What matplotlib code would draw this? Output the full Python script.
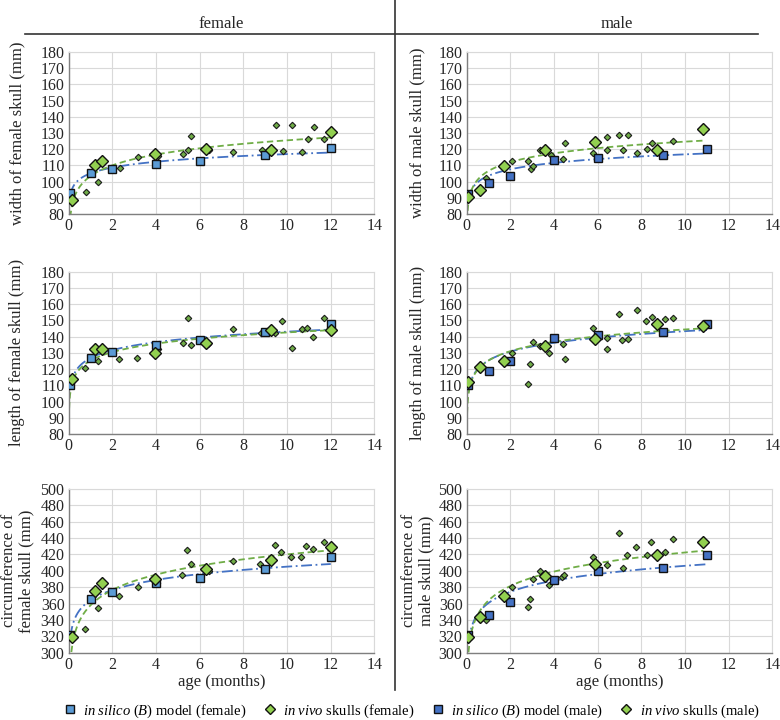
import numpy as np
import matplotlib
matplotlib.use("Agg")
import matplotlib.pyplot as plt
from matplotlib.lines import Line2D

plt.rcParams['font.family'] = ['Liberation Serif', 'DejaVu Serif']
plt.rcParams['mathtext.fontset'] = 'custom'
plt.rcParams['mathtext.rm'] = 'Liberation Serif'
plt.rcParams['mathtext.it'] = 'Liberation Serif:italic'

# ---- data (ages in months, sizes in mm) ----
model_age_f = [0.08, 1, 2, 4, 6, 9, 12]
model_age_m = [0.08, 1, 2, 4, 6, 9, 11]
mean_age_f = [0.14, 1.22, 1.54, 3.97, 6.29, 9.28, 12.03]
mean_age_m = [0.05, 0.61, 1.71, 3.58, 5.88, 8.71, 10.84]

# female width
fw_model = [93, 105, 107.5, 111, 113, 116.5, 120.8]
fw_mean = [88.6, 110, 112.9, 117.1, 120, 119.6, 130.4]
fw_ind_age = [0.79, 1.36, 2.33, 3.17, 4.1, 5.23, 5.44, 5.62, 6.42, 7.53, 8.83, 9.48, 9.79, 10.21, 10.67, 10.94, 11.22, 11.71]
fw_ind = [93.5, 99.8, 108.6, 115.1, 116.1, 116.9, 119.8, 128.2, 119.5, 118, 119.4, 134.7, 119, 134.7, 118.4, 126.3, 133.7, 126.3]

# male width
mw_model = [92.1, 99.3, 103.7, 113.1, 114.8, 116.2, 120.1]
mw_mean = [90.7, 94.8, 109.8, 119.7, 124.7, 119.5, 132.3]
mw_ind_age = [0.9, 2.09, 2.82, 2.95, 3.05, 3.36, 3.85, 4.43, 4.5, 5.8, 6.44, 6.41, 6.96, 7.14, 7.37, 7.79, 8.24, 8.47, 9.47]
mw_ind = [102, 112.7, 112.5, 107.6, 109.6, 119.5, 116.2, 114, 123.6, 117.4, 119.5, 127.5, 129, 119.7, 128.6, 117.7, 120.1, 123.8, 125.3]

# female length
fl_model = [110, 127, 130.3, 135, 137.7, 142.6, 147.7]
fl_mean = [113.7, 132.2, 132.6, 130.2, 136.3, 144.1, 144]
fl_ind_age = [0.76, 1.33, 2.3, 3.14, 4.1, 5.21, 5.44, 5.62, 6.4, 7.53, 8.81, 9.44, 9.76, 10.21, 10.66, 10.91, 11.2, 11.68]
fl_ind = [120.5, 125.2, 126, 126.6, 132.2, 136.3, 151.5, 134.9, 135.5, 144.9, 142, 142, 149.8, 132.8, 144.5, 145.5, 139.8, 151.5]

# male length
ml_model = [110, 119, 125, 138.9, 141, 142.6, 147.6]
ml_mean = [112.2, 121.5, 125, 134.4, 138.7, 147.6, 146.3]
ml_ind_age = [2.09, 2.81, 2.92, 3.05, 3.36, 3.79, 4.43, 4.5, 5.79, 6.44, 6.41, 6.96, 7.13, 7.37, 7.79, 8.23, 8.47, 9.08, 9.45]
ml_ind = [129.7, 110.8, 123.1, 136.5, 134.4, 130.1, 135.6, 126.2, 145.3, 138.9, 132.6, 153.9, 137.7, 138.3, 156.2, 149.8, 151.9, 150.8, 151.7]

# female circumference
fc_model = [321.5, 365, 374.2, 384.8, 391.3, 402.6, 417.3]
fc_mean = [319.5, 375.7, 384.8, 389.7, 402.6, 413.3, 429.5]
fc_ind_age = [0.75, 1.35, 2.3, 3.15, 4.06, 5.2, 5.43, 5.62, 6.41, 7.5, 8.78, 9.45, 9.74, 10.18, 10.65, 10.88, 11.2, 11.67]
fc_ind = [328.6, 355, 369.6, 380.6, 385.5, 395.3, 425.5, 408.4, 399.4, 412.4, 408, 431.2, 423, 416.6, 416.6, 430.4, 426.3, 435.6]

# male circumference
mc_model = [321.6, 346.4, 361.9, 388.5, 400.2, 403.9, 419.7]
mc_mean = [319.5, 344, 369.3, 393.7, 408.4, 419.4, 435.6]
mc_ind_age = [0.88, 2.06, 2.81, 2.92, 3.05, 3.36, 3.79, 4.35, 4.47, 5.77, 6.41, 6.96, 7.14, 7.36, 7.75, 8.25, 8.46, 9.07, 9.43]
mc_ind = [340, 380.6, 355.5, 365.6, 390, 399.8, 382.7, 392.9, 394.6, 416.6, 407.5, 446.6, 403.1, 419.4, 428.8, 419.4, 435.2, 423.4, 438.5]

BLUE_F = '#5B9BD5'
BLUE_M = '#4472C4'
GREEN_BIG = '#92D050'
GREEN_SMALL = '#70AD47'
LINE_BLUE = '#4472C4'
LINE_GREEN = '#70AD47'

fig = plt.figure(figsize=(7.8, 7.2), dpi=100)

lefts = [0.0881, 0.5983]
width = 0.392
bottoms = [0.7028, 0.3972, 0.0935]
heights = [0.225, 0.2254, 0.2274]

panels = [
    # (row, col, model_age, model, mean_age, mean, ind_age, ind, ylim, step, ylabel, sq colour)
    (0, 0, model_age_f, fw_model, mean_age_f, fw_mean, fw_ind_age, fw_ind, (80, 180), 10,
     'width of female skull (mm)', BLUE_F),
    (0, 1, model_age_m, mw_model, mean_age_m, mw_mean, mw_ind_age, mw_ind, (80, 180), 10,
     'width of male skull (mm)', BLUE_M),
    (1, 0, model_age_f, fl_model, mean_age_f, fl_mean, fl_ind_age, fl_ind, (80, 180), 10,
     'length of female skull (mm)', BLUE_F),
    (1, 1, model_age_m, ml_model, mean_age_m, ml_mean, ml_ind_age, ml_ind, (80, 180), 10,
     'length of male skull (mm)', BLUE_M),
    (2, 0, model_age_f, fc_model, mean_age_f, fc_mean, fc_ind_age, fc_ind, (300, 500), 20,
     'circumference of\nfemale skull (mm)', BLUE_F),
    (2, 1, model_age_m, mc_model, mean_age_m, mc_mean, mc_ind_age, mc_ind, (300, 500), 20,
     'circumference of\nmale skull (mm)', BLUE_M),
]


def log_fit(x, y, x_start):
    x = np.asarray(x, float)
    y = np.asarray(y, float)
    a, b = np.polyfit(np.log(x), y, 1)
    xs = np.geomspace(x_start, x.max(), 300)
    return xs, a * np.log(xs) + b


for row, col, m_age, m_val, v_age, v_mean, i_age, i_val, ylim, step, ylab, sq_col in panels:
    ax = fig.add_axes([lefts[col], bottoms[row], width, heights[row]])

    # logarithmic trend lines (as in a spreadsheet trendline)
    xs, ys = log_fit(m_age, m_val, min(m_age))
    ax.plot(xs, ys, color=LINE_BLUE, lw=1.3, dashes=(6, 2, 1, 2), zorder=2)
    xs, ys = log_fit(list(v_age) + list(i_age), list(v_mean) + list(i_val), 0.02)
    ax.plot(xs, ys, color=LINE_GREEN, lw=1.3, dashes=(3.5, 2), zorder=2)

    ax.plot(i_age, i_val, 'D', ms=3.3, mfc=GREEN_SMALL, mec='#1a1a1a', mew=0.8, ls='none', zorder=3)
    ax.plot(m_age, m_val, 's', ms=6, mfc=sq_col, mec='#111111', mew=1.0, ls='none', zorder=4)
    ax.plot(v_age, v_mean, 'D', ms=6, mfc=GREEN_BIG, mec='#111111', mew=1.0, ls='none', zorder=5)

    ax.set_xlim(0, 14)
    ax.set_ylim(*ylim)
    ax.set_xticks(np.arange(0, 15, 2))
    ax.set_yticks(np.arange(ylim[0], ylim[1] + 1, step))
    ax.grid(True, color='#d9d9d9', lw=0.8)
    ax.set_axisbelow(True)
    ax.tick_params(length=0, labelsize=11.5, pad=3, colors='#262626')
    for s in ['top', 'right']:
        ax.spines[s].set_color('#d9d9d9')
        ax.spines[s].set_linewidth(0.8)
    for s in ['left', 'bottom']:
        ax.spines[s].set_color('#7f7f7f')
        ax.spines[s].set_linewidth(1.0)

    ax.set_ylabel(ylab, fontsize=12, va='center', linespacing=1.1, color='#262626')
    ax.yaxis.set_label_coords(-0.168 if col == 0 else -0.16, 0.5)
    if row == 2:
        ax.set_xlabel('age (months)', fontsize=12, color='#262626', labelpad=1)

# header
fig.text(221 / 780, 1 - 24 / 720, 'female', ha='center', va='center', fontsize=12, color='#262626')
fig.text(617 / 780, 1 - 24 / 720, 'male', ha='center', va='center', fontsize=12, color='#262626')
fig.add_artist(Line2D([25 / 780, 758 / 780], [1 - 34 / 720, 1 - 34 / 720], color='#333333', lw=1.2))
fig.add_artist(Line2D([395 / 780, 395 / 780], [1.0, 1 - 690 / 720], color='#333333', lw=1.2))

# legend
handles = [
    Line2D([], [], marker='s', ls='none', ms=6, mfc=BLUE_F, mec='#111111', mew=1.0),
    Line2D([], [], marker='D', ls='none', ms=5, mfc=GREEN_BIG, mec='#111111', mew=1.0),
    Line2D([], [], marker='s', ls='none', ms=6, mfc=BLUE_M, mec='#111111', mew=1.0),
    Line2D([], [], marker='D', ls='none', ms=5, mfc=GREEN_BIG, mec='#111111', mew=1.0),
]
labels = [
    r'$\mathit{in\ silico\ (B)}$ model (female)',
    r'$\mathit{in\ vivo}$ skulls (female)',
    r'$\mathit{in\ silico\ (B)}$ model (male)',
    r'$\mathit{in\ vivo}$ skulls (male)',
]
fig.legend(handles, labels, loc='center', bbox_to_anchor=(0.528, 1 - 711 / 720), ncol=4,
           frameon=False, fontsize=10.5, handlelength=0.8, handletextpad=0.5,
           columnspacing=1.2, borderaxespad=0)

fig.savefig('out.png', dpi=100)
